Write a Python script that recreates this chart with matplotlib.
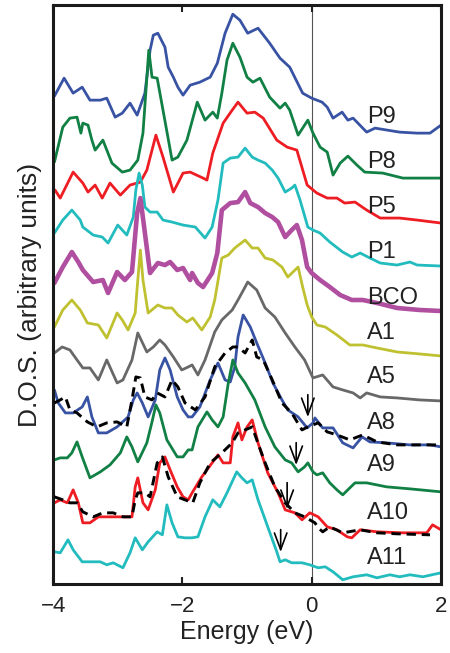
import numpy as np
import matplotlib
matplotlib.use('Agg')
import matplotlib.pyplot as plt

plt.rcParams['font.family'] = ['Liberation Sans', 'DejaVu Sans']

# Curve data: energy (eV) and D.O.S. (arbitrary units, stacked as shown)
e_p9 = [-3.98, -3.83, -3.69, -3.55, -3.43, -3.27, -3.17, -3.04, -2.93, -2.81, -2.70, -2.58, -2.50, -2.45, -2.38,
        -2.27, -2.22, -2.14, -2.07, -1.99, -1.88, -1.73, -1.57, -1.46, -1.34, -1.22, -1.11, -0.99, -0.83, -0.65,
        -0.49, -0.34, -0.14, 0.00, 0.16, 0.24, 0.33, 0.47, 0.56, 0.64, 0.85, 0.98, 1.36, 1.63, 1.83, 2.00]
d_p9 = [48.8, 50.6, 49.1, 49.7, 48.4, 48.4, 48.6, 46.7, 47.1, 48.1, 46.9, 49.1, 53.4, 54.9, 55.1,
        53.7, 51.7, 50.7, 49.7, 48.9, 49.9, 50.2, 50.7, 52.1, 55.1, 57.0, 56.4, 55.1, 55.6, 54.1,
        52.6, 51.7, 49.1, 48.6, 48.2, 47.7, 46.6, 47.2, 46.4, 46.6, 45.2, 45.6, 45.2, 45.1, 45.1, 45.9]

e_p8 = [-3.98, -3.85, -3.74, -3.63, -3.57, -3.54, -3.46, -3.40, -3.35, -3.23, -3.09, -2.93, -2.81, -2.69, -2.61,
        -2.52, -2.47, -2.39, -2.30, -2.16, -2.07, -1.93, -1.77, -1.65, -1.53, -1.46, -1.39, -1.31, -1.22, -1.11,
        -1.00, -0.91, -0.80, -0.65, -0.49, -0.41, -0.34, -0.21, -0.06, 0.02, 0.13, 0.24, 0.33, 0.44, 0.56,
        0.70, 0.82, 1.10, 1.41, 2.00]
d_p8 = [42.2, 45.7, 46.6, 46.7, 45.1, 46.1, 45.9, 44.4, 43.4, 44.4, 42.1, 41.2, 41.4, 42.4, 45.1,
        53.4, 50.7, 50.6, 47.4, 42.4, 42.7, 44.4, 48.2, 46.4, 47.2, 46.6, 49.1, 52.4, 54.1, 52.7,
        50.7, 50.2, 50.6, 48.7, 47.6, 48.1, 47.4, 44.9, 46.4, 45.1, 43.7, 43.2, 40.9, 42.1, 42.8,
        41.9, 41.2, 41.1, 40.6, 40.6]

e_p5 = [-3.97, -3.89, -3.69, -3.54, -3.46, -3.35, -3.24, -3.12, -2.96, -2.81, -2.65, -2.55, -2.41, -2.30, -2.14,
        -1.99, -1.88, -1.68, -1.62, -1.53, -1.37, -1.23, -1.14, -1.00, -0.88, -0.75, -0.54, -0.38, -0.23, -0.07,
        0.08, 0.24, 0.39, 0.51, 0.67, 0.85, 1.06, 1.36, 1.63, 2.00]
d_p5 = [39.4, 38.6, 41.2, 40.1, 39.2, 39.9, 38.6, 40.1, 38.9, 39.9, 40.2, 41.4, 44.9, 42.7, 39.2,
        41.1, 41.2, 40.6, 40.4, 43.1, 46.1, 47.4, 48.2, 47.1, 47.2, 46.6, 44.4, 43.7, 43.4, 39.9,
        39.1, 38.6, 38.6, 38.1, 38.2, 37.4, 36.6, 36.6, 36.4, 36.1]

e_p1 = [-3.98, -3.85, -3.71, -3.58, -3.54, -3.38, -3.24, -3.15, -3.00, -2.86, -2.76, -2.72, -2.67, -2.62, -2.58,
        -2.50, -2.39, -2.30, -2.16, -1.99, -1.80, -1.65, -1.54, -1.45, -1.37, -1.26, -1.14, -1.03, -0.92, -0.83,
        -0.72, -0.61, -0.52, -0.41, -0.31, -0.26, -0.18, -0.06, 0.02, 0.13, 0.28, 0.48, 0.62, 0.75, 0.87,
        1.06, 1.32, 1.52, 1.63, 2.00]
d_p1 = [35.1, 36.4, 37.4, 36.4, 35.7, 34.9, 34.7, 34.1, 35.9, 34.9, 36.7, 39.4, 41.1, 39.9, 37.7,
        37.2, 37.2, 36.4, 36.2, 35.9, 35.7, 34.6, 35.7, 38.4, 42.1, 42.6, 42.7, 43.6, 42.7, 42.4,
        42.1, 41.4, 40.6, 39.2, 39.6, 39.9, 38.4, 35.7, 35.4, 35.1, 34.2, 33.2, 32.7, 33.1, 32.7,
        32.1, 31.9, 32.2, 31.9, 31.8]

e_bco = [-3.98, -3.85, -3.71, -3.61, -3.54, -3.38, -3.23, -3.15, -3.01, -2.89, -2.78, -2.70, -2.65, -2.58, -2.50,
         -2.38, -2.27, -2.19, -2.08, -1.99, -1.88, -1.85, -1.76, -1.68, -1.54, -1.46, -1.39, -1.26, -1.14, -1.03,
         -0.95, -0.83, -0.72, -0.61, -0.52, -0.41, -0.31, -0.23, -0.15, -0.07, 0.00, 0.13, 0.28, 0.44, 0.62,
         0.79, 1.01, 1.32, 1.67, 2.00]
d_bco = [30.1, 31.7, 33.2, 32.2, 31.4, 30.2, 30.4, 29.1, 31.2, 30.4, 31.2, 37.1, 38.6, 35.1, 31.1,
         32.1, 31.9, 32.2, 31.4, 31.6, 30.4, 31.1, 30.1, 29.7, 31.1, 33.1, 37.4, 38.1, 38.2, 39.2,
         38.1, 37.7, 37.1, 36.7, 36.2, 34.7, 35.4, 35.9, 34.4, 31.7, 31.1, 30.4, 29.7, 28.9, 28.4,
         28.4, 28.1, 27.6, 27.4, 27.3]

e_a1 = [-3.98, -3.85, -3.71, -3.58, -3.47, -3.30, -3.17, -3.01, -2.93, -2.84, -2.73, -2.69, -2.65, -2.61, -2.53,
        -2.38, -2.27, -2.16, -2.07, -1.93, -1.84, -1.70, -1.57, -1.50, -1.39, -1.29, -1.19, -1.03, -0.92, -0.83,
        -0.72, -0.60, -0.46, -0.37, -0.21, -0.14, -0.07, 0.00, 0.08, 0.21, 0.39, 0.59, 0.79, 1.01, 1.32,
        1.67, 2.00]
d_a1 = [25.7, 27.4, 28.4, 27.4, 26.1, 25.9, 24.6, 27.1, 26.4, 25.4, 27.1, 30.4, 33.4, 30.4, 27.1,
        27.9, 27.6, 27.6, 26.9, 26.2, 26.6, 25.4, 26.7, 28.4, 32.6, 32.9, 33.6, 34.4, 33.6, 33.6,
        32.6, 32.4, 31.7, 30.7, 31.7, 29.7, 27.9, 26.7, 25.9, 25.7, 24.9, 23.9, 23.9, 23.6, 23.2,
        23.0, 22.8]

e_a5 = [-3.98, -3.86, -3.74, -3.63, -3.54, -3.43, -3.30, -3.17, -3.01, -2.92, -2.78, -2.69, -2.55, -2.45, -2.35,
        -2.27, -2.14, -2.01, -1.91, -1.85, -1.76, -1.65, -1.50, -1.39, -1.23, -1.14, -1.03, -0.99, -0.85, -0.72,
        -0.57, -0.41, -0.26, -0.11, 0.02, 0.17, 0.33, 0.48, 0.64, 0.75, 0.85, 1.06, 1.32, 1.67, 2.00]
d_a5 = [23.1, 23.7, 23.4, 22.4, 21.6, 21.6, 20.4, 22.4, 20.1, 20.4, 22.4, 25.1, 23.2, 23.7, 24.4,
        23.9, 22.7, 21.4, 21.7, 21.9, 20.9, 22.4, 25.2, 26.4, 27.4, 28.4, 29.7, 30.2, 29.4, 27.6,
        26.7, 25.1, 23.7, 22.4, 20.6, 20.9, 19.7, 19.4, 19.1, 18.6, 19.1, 18.7, 18.6, 18.4, 18.3]

e_a8 = [-3.98, -3.92, -3.81, -3.69, -3.55, -3.47, -3.40, -3.30, -3.17, -3.01, -2.84, -2.76, -2.70, -2.62, -2.53,
        -2.42, -2.35, -2.27, -2.19, -2.08, -1.99, -1.91, -1.85, -1.73, -1.57, -1.45, -1.34, -1.26, -1.19, -1.14,
        -1.06, -0.95, -0.85, -0.72, -0.60, -0.46, -0.37, -0.21, -0.07, 0.02, 0.05, 0.17, 0.33, 0.48, 0.64,
        0.78, 0.90, 1.16, 1.52, 1.83, 2.00]
d_a8 = [19.4, 18.1, 17.1, 17.1, 17.7, 18.7, 16.7, 15.1, 15.1, 15.7, 16.7, 18.4, 19.1, 18.1, 16.7,
        18.4, 21.4, 22.6, 21.4, 18.7, 17.4, 16.7, 16.7, 17.7, 20.4, 22.1, 20.4, 20.2, 21.7, 24.7,
        26.9, 25.7, 24.1, 22.1, 20.1, 18.4, 17.4, 16.7, 15.6, 16.1, 16.6, 15.6, 15.6, 14.1, 13.6,
        14.7, 14.2, 14.1, 13.9, 13.9, 13.7]

e_a8_ref = [-3.98, -3.89, -3.81, -3.74, -3.63, -3.47, -3.32, -3.17, -3.01, -2.86, -2.78, -2.72, -2.65, -2.58, -2.47,
            -2.39, -2.27, -2.16, -2.07, -1.96, -1.80, -1.65, -1.50, -1.34, -1.22, -1.14, -1.03, -0.92, -0.85, -0.75,
            -0.61, -0.46, -0.31, -0.15, -0.06, 0.10, 0.24, 0.39, 0.59, 0.79, 1.01, 1.32, 1.63, 2.00]
d_a8_ref = [18.1, 18.4, 18.7, 17.4, 17.1, 16.2, 15.7, 16.1, 16.2, 15.7, 18.4, 20.7, 20.6, 18.7, 18.4,
            19.1, 18.7, 20.4, 19.7, 18.1, 17.4, 18.7, 21.7, 23.1, 23.7, 23.7, 23.1, 24.4, 22.7, 22.4,
            20.4, 18.1, 17.1, 15.4, 15.7, 16.1, 15.2, 14.9, 14.4, 14.9, 14.2, 13.9, 13.9, 13.9]

e_a9 = [-3.98, -3.89, -3.78, -3.71, -3.63, -3.55, -3.43, -3.27, -3.12, -2.96, -2.86, -2.78, -2.69, -2.55, -2.47,
        -2.41, -2.35, -2.24, -2.08, -1.99, -1.91, -1.85, -1.76, -1.62, -1.54, -1.45, -1.37, -1.29, -1.22, -1.14,
        -1.03, -0.88, -0.72, -0.57, -0.41, -0.31, -0.21, -0.11, -0.06, 0.02, 0.08, 0.17, 0.28, 0.39, 0.48,
        0.59, 0.67, 0.85, 1.16, 1.52, 2.00]
d_a9 = [12.4, 12.6, 12.6, 13.1, 14.2, 12.7, 10.6, 11.2, 11.9, 13.1, 14.7, 13.7, 12.2, 14.1, 16.2,
        17.9, 17.1, 14.4, 12.7, 12.7, 13.4, 13.4, 15.7, 17.2, 16.4, 15.7, 16.7, 20.1, 22.4, 21.1,
        20.1, 18.4, 15.7, 13.7, 12.4, 12.1, 11.2, 11.7, 12.1, 11.2, 10.9, 11.1, 10.1, 9.4, 8.9,
        9.6, 10.1, 10.1, 9.7, 9.5, 9.2]

e_a10 = [-3.98, -3.89, -3.78, -3.69, -3.61, -3.54, -3.43, -3.30, -3.17, -3.01, -2.89, -2.78, -2.73, -2.69, -2.61,
         -2.53, -2.42, -2.35, -2.27, -2.19, -2.08, -1.99, -1.91, -1.85, -1.70, -1.54, -1.45, -1.37, -1.26, -1.22,
         -1.14, -1.08, -1.00, -0.92, -0.83, -0.68, -0.52, -0.41, -0.26, -0.15, -0.03, 0.10, 0.24, 0.39, 0.55,
         0.62, 0.75, 1.01, 1.41, 1.78, 1.87, 2.00]
d_a10 = [8.1, 8.4, 8.1, 9.4, 8.1, 6.1, 6.1, 6.7, 6.7, 6.7, 6.7, 6.7, 9.7, 10.6, 8.1,
         7.4, 9.4, 12.1, 12.7, 11.4, 9.7, 8.7, 8.4, 9.1, 10.7, 12.1, 12.9, 12.1, 12.1, 14.7,
         16.1, 14.4, 15.7, 16.4, 14.1, 11.1, 9.1, 7.4, 7.1, 6.4, 7.1, 6.7, 5.7, 5.4, 4.7,
         4.6, 5.4, 5.2, 5.1, 5.1, 5.9, 5.4]

e_a10_ref = [-3.98, -3.85, -3.74, -3.63, -3.54, -3.38, -3.23, -3.07, -2.92, -2.78, -2.73, -2.69, -2.58, -2.50, -2.39,
             -2.31, -2.22, -2.08, -1.96, -1.84, -1.73, -1.57, -1.39, -1.23, -1.14, -1.03, -0.92, -0.85, -0.72, -0.57,
             -0.41, -0.26, -0.11, 0.05, 0.10, 0.17, 0.28, 0.48, 0.75, 1.01, 1.32, 1.83]
d_a10_ref = [8.7, 8.4, 8.1, 8.1, 7.2, 6.7, 7.1, 7.1, 6.7, 6.7, 8.4, 9.1, 9.1, 8.7, 12.1,
             12.7, 10.7, 8.7, 8.4, 8.1, 10.1, 12.1, 13.1, 14.1, 15.1, 15.4, 15.7, 14.4, 12.1, 9.7,
             8.1, 7.1, 6.7, 6.1, 5.6, 5.2, 5.7, 5.1, 5.4, 5.1, 5.0, 4.9]

e_a11 = [-3.98, -3.89, -3.77, -3.69, -3.55, -3.43, -3.27, -3.17, -3.07, -2.92, -2.81, -2.73, -2.62, -2.53, -2.39,
         -2.31, -2.24, -2.16, -2.07, -1.96, -1.85, -1.76, -1.65, -1.53, -1.42, -1.31, -1.16, -1.08, -1.00, -0.92,
         -0.83, -0.68, -0.54, -0.49, -0.41, -0.31, -0.15, -0.03, 0.10, 0.21, 0.33, 0.48, 0.64, 0.85, 1.01,
         1.21, 1.36, 1.52, 1.72, 2.00]
d_a11 = [3.2, 3.1, 4.4, 3.4, 2.2, 2.2, 2.2, 1.9, 2.1, 1.6, 3.1, 4.6, 3.4, 4.2, 5.2,
         4.9, 7.9, 6.1, 4.7, 4.6, 4.6, 4.7, 6.7, 8.4, 7.7, 9.1, 11.2, 10.6, 10.1, 10.4,
         8.4, 5.7, 3.2, 2.2, 2.4, 2.1, 2.1, 1.9, 1.6, 1.7, 1.2, 0.4, 0.7, 0.9, 0.6,
         0.9, 0.7, 0.9, 0.7, 1.1]

names = ['P9', 'P8', 'P5', 'P1', 'BCO', 'A1', 'A5', 'A8', 'A9', 'A10', 'A11']
label_y = [46.7, 42.2, 37.7, 33.2, 28.6, 25.1, 20.7, 16.1, 11.9, 7.1, 2.6]

# arrows: energy, start, end
arrow_e = [-0.06, -0.24, -0.38, -0.48]
arrow_top = [19.2, 14.4, 10.4, 5.7]
arrow_bot = [16.4, 11.6, 7.2, 2.9]

blue = '#3953a4'
green = '#118044'
red = '#ee1d24'
cyan = '#22bcbf'
magenta = '#b04fa0'
olive = '#bfc130'
grey = '#686868'

curves = [
    (e_p9, d_p9, blue, 2.0),
    (e_p8, d_p8, green, 2.0),
    (e_p5, d_p5, red, 2.0),
    (e_p1, d_p1, cyan, 2.0),
    (e_bco, d_bco, magenta, 3.3),
    (e_a1, d_a1, olive, 2.0),
    (e_a5, d_a5, grey, 2.0),
    (e_a8, d_a8, blue, 2.0),
    (e_a9, d_a9, green, 2.0),
    (e_a10, d_a10, red, 2.0),
    (e_a11, d_a11, cyan, 2.0),
]

fig = plt.figure(figsize=(4.5, 6.53), dpi=100)
ax = fig.add_axes([0.118, 0.106, 0.862, 0.886])

ax.axvline(0, color='#555555', lw=0.8, zorder=1)

for e, d, c, lw in curves:
    ax.plot(e, d, color=c, lw=lw, zorder=2, solid_joinstyle='round', solid_capstyle='round')
    if d is d_a8:
        ax.plot(e_a8_ref, d_a8_ref, color='black', lw=2.1, ls=(0, (3.2, 2.0)), zorder=3)
    if d is d_a10:
        ax.plot(e_a10_ref, d_a10_ref, color='black', lw=2.1, ls=(0, (3.2, 2.0)), zorder=3)

for n, y in zip(names, label_y):
    ax.text(0.85, y, n, fontsize=17, va='center', ha='left', color='#222222', zorder=4)

for x, y0, y1 in zip(arrow_e, arrow_top, arrow_bot):
    ax.annotate('', xy=(x, y1), xytext=(x, y0),
                arrowprops=dict(arrowstyle='->,head_length=0.8,head_width=0.3',
                                color='black', lw=1.2, mutation_scale=15), zorder=5)

ax.set_xlim(-4, 2)
ax.set_ylim(0, 57.9)
ax.set_xticks([-4, -2, 0, 2])
ax.set_yticks([])
ax.tick_params(axis='x', direction='in', top=True, length=5, width=1.5, labelsize=16, pad=9,
               colors='#222222')
for s in ax.spines.values():
    s.set_linewidth(2.2)
    s.set_color('#1a1a1a')

ax.set_xlabel('Energy (eV)', fontsize=18, labelpad=2, color='#222222')
ax.set_ylabel('D.O.S. (arbitrary units)', fontsize=19, labelpad=8, color='#222222')

fig.savefig('out.png', dpi=100)
